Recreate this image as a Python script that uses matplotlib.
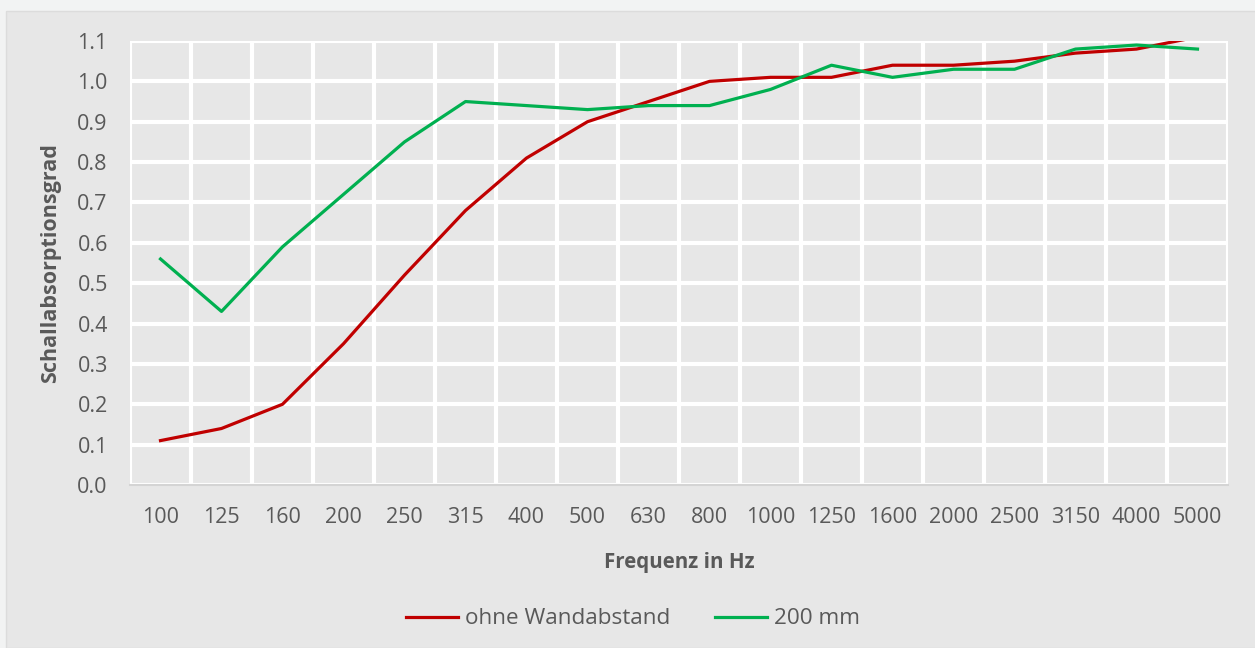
import numpy as np
import matplotlib.pyplot as plt
from matplotlib.patches import Rectangle

plt.rcParams['font.family'] = ['Open Sans', 'DejaVu Sans']

freqs = ['100', '125', '160', '200', '250', '315', '400', '500', '630', '800',
         '1000', '1250', '1600', '2000', '2500', '3150', '4000', '5000']
ohne = [0.11, 0.14, 0.20, 0.35, 0.52, 0.68, 0.81, 0.90, 0.95, 1.00,
        1.01, 1.01, 1.04, 1.04, 1.05, 1.07, 1.08, 1.11]
mm200 = [0.56, 0.43, 0.59, 0.72, 0.85, 0.95, 0.94, 0.93, 0.94, 0.94,
         0.98, 1.04, 1.01, 1.03, 1.03, 1.08, 1.09, 1.08]

W, H = 1255, 648
fig = plt.figure(figsize=(W / 100, H / 100), dpi=100, facecolor='#f2f3f3')
fig.patches.append(Rectangle((6 / W, 0), 1, 1 - 11 / H, transform=fig.transFigure,
                             facecolor='#e7e7e7', edgecolor='#dcdcdc', lw=1, zorder=-10))

ax = fig.add_axes([130 / W, 1 - 485 / H, 1098 / W, 444 / H])
ax.set_facecolor('#e7e7e7')

x = np.arange(len(freqs))
ax.plot(x, ohne, color='#c00000', lw=2.3, label='ohne Wandabstand', clip_on=True)
ax.plot(x, mm200, color='#00b050', lw=2.3, label='200 mm', clip_on=True)

ax.set_xlim(-0.5, len(freqs) - 0.5)
ax.set_ylim(0, 1.1)
ax.set_yticks(np.arange(0, 1.11, 0.1))
ax.set_yticklabels(['%.1f' % v for v in np.arange(0, 1.11, 0.1)])
ax.set_xticks(x)
ax.set_xticklabels(freqs)
ax.set_xticks(np.arange(-0.5, len(freqs)), minor=True)

ax.grid(which='major', axis='y', color='white', lw=3)
ax.grid(which='minor', axis='x', color='white', lw=3)
ax.set_axisbelow(True)
for s in ['top', 'right', 'left']:
    ax.spines[s].set_visible(False)
ax.spines['bottom'].set_color('#d4d4d4')
ax.spines['bottom'].set_linewidth(1.5)
ax.tick_params(which='both', length=0, labelsize=15.5, labelcolor='#595959')
ax.tick_params(axis='x', pad=16)
ax.tick_params(axis='y', pad=16)

ax.set_xlabel('Frequenz in Hz', fontsize=14.8, fontweight='bold', color='#595959', labelpad=17)
ax.set_ylabel('Schallabsorptionsgrad', fontsize=15.5, fontweight='bold', color='#595959', labelpad=12)

fig.legend(loc='center', bbox_to_anchor=(633 / W, 1 - 619 / H), ncol=2, frameon=False,
           fontsize=16.2, labelcolor='#595959', handlelength=2.3, handletextpad=0.3,
           columnspacing=2.0)

fig.savefig('out.png', dpi=100, facecolor=fig.get_facecolor())
